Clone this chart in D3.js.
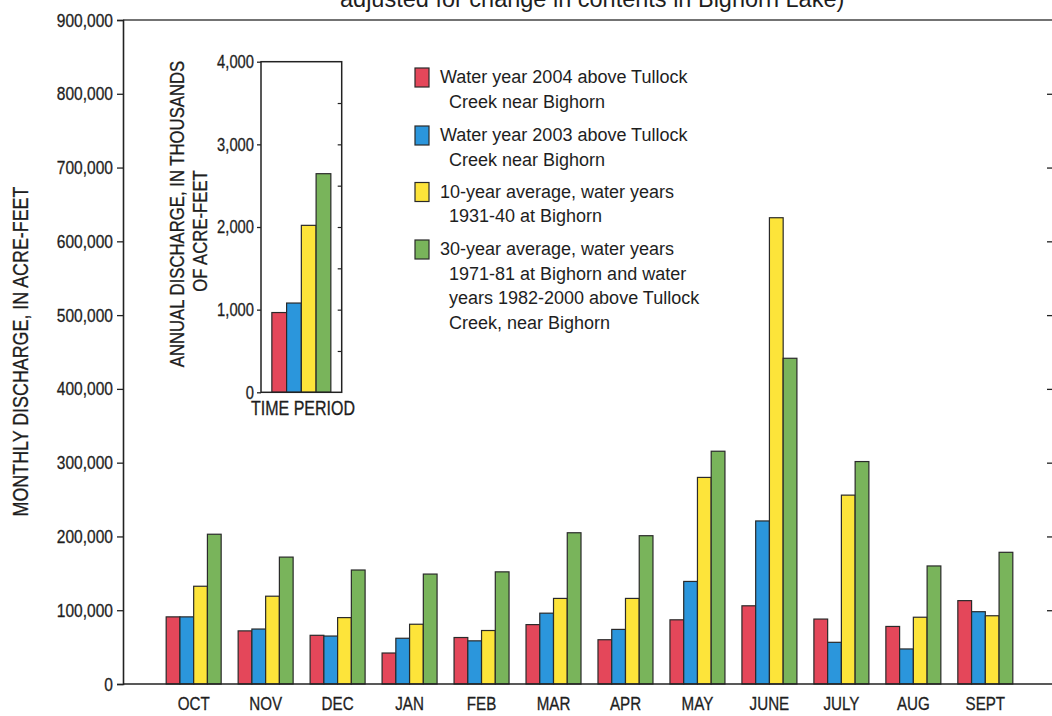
<!DOCTYPE html>
<html>
<head>
<meta charset="utf-8">
<script src="https://cdn.jsdelivr.net/npm/d3@7"></script>
<style>
  html, body { margin: 0; padding: 0; background: #ffffff; }
  svg { display: block; }
  .legend-text { font-family: "Liberation Sans", Arial, sans-serif; font-size: 18px; fill: #1e1e1e; }
</style>
</head>
<body>
<svg id="chart" width="1052" height="716"></svg>
<script>
// Monthly discharge, in acre-feet
const months = ["OCT", "NOV", "DEC", "JAN", "FEB", "MAR", "APR", "MAY", "JUNE", "JULY", "AUG", "SEPT"];
const wy2004 = [91000, 72000, 66000, 42000, 63000, 80500, 60000, 87000, 106000, 88000, 78000, 113000];
const wy2003 = [91000, 74500, 65000, 62000, 58500, 96000, 74000, 139000, 221000, 56500, 47500, 98000];
const avg10yr = [132500, 119000, 90000, 81000, 72500, 116000, 116000, 280000, 632000, 256000, 90500, 92500];
const avg30yr = [203000, 172000, 154500, 149000, 152000, 205000, 201000, 315500, 441500, 301500, 160000, 178500];

// Annual discharge, in thousands of acre-feet
const annual = [965, 1080, 2020, 2645];

const seriesKeys = ["wy2004", "wy2003", "avg10yr", "avg30yr"];
const seriesColors = ["#e4475a", "#2b96dc", "#fde43a", "#79b45b"];
const legendLines = [
  ["Water year 2004 above Tullock", "Creek near Bighorn"],
  ["Water year 2003 above Tullock", "Creek near Bighorn"],
  ["10-year average, water years", "1931-40 at Bighorn"],
  ["30-year average, water years", "1971-81 at Bighorn and water", "years 1982-2000 above Tullock", "Creek, near Bighorn"]
];

const yTicks = [0, 100000, 200000, 300000, 400000, 500000, 600000, 700000, 800000, 900000];
const insetTicks = [0, 1000, 2000, 3000, 4000];
const insetMinorTicks = [500, 1000, 1500, 2000, 2500, 3000, 3500];

const titleText = "adjusted for change in contents in Bighorn Lake)";
const yTitle = "MONTHLY DISCHARGE, IN ACRE-FEET";
const insetTitle = ["ANNUAL DISCHARGE, IN THOUSANDS", "OF ACRE-FEET"];
const insetXTitle = "TIME PERIOD";

(function draw() {
  const seriesValues = [wy2004, wy2003, avg10yr, avg30yr];
  const rows = months.map((m, i) => {
    const r = { month: m };
    seriesKeys.forEach((k, j) => { r[k] = seriesValues[j][i]; });
    return r;
  });

  const svg = d3.select("#chart");
  const ink = "#222";
  const textInk = "#1e1e1e";
  const barStroke = "#2a2a2a";
  const squeeze = 0.82; // horizontal compression for the narrow label face

  // narrow label face: Liberation Sans squeezed horizontally, lightly emboldened
  function narrowText(sel, size, baseTransform) {
    sel.attr("font-family", "'Liberation Sans', Arial, sans-serif")
      .attr("font-size", size)
      .attr("fill", textInk)
      .attr("stroke", textInk)
      .attr("stroke-width", 0.3)
      .each(function () {
        const t = d3.select(this);
        const x0 = +t.attr("x") || 0;
        t.attr("x", x0 / squeeze)
          .attr("transform", (baseTransform ? baseTransform + " " : "") + `scale(${squeeze},1)`);
      });
  }

  // main plot geometry
  const pL = 123, pR = 1056, pT = 20, pB = 684;

  const x = d3.scaleBand().domain(months).range([pL, pR]).paddingInner(0.236).paddingOuter(0.6);
  const xs = d3.scaleBand().domain(seriesKeys).range([0, x.bandwidth()]);
  const y = d3.scaleLinear().domain([0, 900000]).range([pB, pT]);
  const color = d3.scaleOrdinal().domain(seriesKeys).range(seriesColors);

  // title (runs off the top edge)
  svg.append("text")
    .attr("x", 340).attr("y", 6.5)
    .attr("font-family", "'Liberation Sans', Arial, sans-serif")
    .attr("font-size", 23.5)
    .attr("fill", textInk)
    .text(titleText);

  // bars
  const groups = svg.append("g").selectAll("g")
    .data(rows).join("g")
    .attr("transform", d => `translate(${x(d.month)},0)`);

  groups.selectAll("rect")
    .data(d => seriesKeys.map(k => ({ key: k, value: d[k] })))
    .join("rect")
    .attr("x", d => xs(d.key))
    .attr("width", xs.bandwidth())
    .attr("y", d => y(d.value))
    .attr("height", d => y(0) - y(d.value))
    .attr("fill", d => color(d.key))
    .attr("stroke", barStroke)
    .attr("stroke-width", 1.2);

  // frame: top and bottom lines
  svg.append("line").attr("x1", pL).attr("x2", pR).attr("y1", y(900000)).attr("y2", y(900000))
    .attr("stroke", "#444").attr("stroke-width", 1.4);
  svg.append("line").attr("x1", pL).attr("x2", pR).attr("y1", y(0)).attr("y2", y(0))
    .attr("stroke", ink).attr("stroke-width", 1.6);

  // left axis
  const yAxis = d3.axisLeft(y).tickValues(yTicks).tickSize(6).tickPadding(4).tickFormat(d3.format(","));
  const gy = svg.append("g").attr("transform", `translate(${pL},0)`).call(yAxis);
  gy.select(".domain").attr("stroke", ink).attr("stroke-width", 1.6);
  gy.selectAll(".tick line").attr("stroke", ink).attr("stroke-width", 1.3);
  gy.selectAll(".tick text").call(narrowText, 19);

  // right axis: inward ticks only
  const yAxisR = d3.axisLeft(y).tickValues(yTicks.slice(1, -1)).tickSize(7).tickFormat("");
  const gyr = svg.append("g").attr("transform", `translate(${pR - 2},0)`).call(yAxisR);
  gyr.select(".domain").remove();
  gyr.selectAll(".tick line").attr("stroke", ink).attr("stroke-width", 1.3);

  // month labels
  const xAxis = d3.axisBottom(x).tickSize(0).tickPadding(13);
  const gx = svg.append("g").attr("transform", `translate(0,${pB})`).call(xAxis);
  gx.select(".domain").remove();
  gx.selectAll(".tick text").call(narrowText, 18.5);

  // y-axis title
  svg.append("text")
    .attr("text-anchor", "middle")
    .text(yTitle)
    .call(narrowText, 21.8, "translate(28,351.5) rotate(-90)");

  // inset: annual discharge
  const iL = 261, iR = 341.7, iT = 61.7, iB = 392.3;
  const xi = d3.scaleBand().domain(seriesKeys).range([iL, iR]).paddingInner(0).paddingOuter(0.736);
  const yi = d3.scaleLinear().domain([0, 4000]).range([iB, iT]);

  svg.append("g").selectAll("rect")
    .data(seriesKeys.map((k, i) => ({ key: k, value: annual[i] })))
    .join("rect")
    .attr("x", d => xi(d.key))
    .attr("width", xi.bandwidth())
    .attr("y", d => yi(d.value))
    .attr("height", d => yi(0) - yi(d.value))
    .attr("fill", d => color(d.key))
    .attr("stroke", barStroke)
    .attr("stroke-width", 1.2);

  svg.append("rect").attr("x", iL).attr("y", iT).attr("width", iR - iL).attr("height", iB - iT)
    .attr("fill", "none").attr("stroke", ink).attr("stroke-width", 1.5);

  const yiAxis = d3.axisLeft(yi).tickValues(insetTicks).tickSize(4).tickPadding(3).tickFormat(d3.format(","));
  const gyi = svg.append("g").attr("transform", `translate(${iL},0)`).call(yiAxis);
  gyi.select(".domain").remove();
  gyi.selectAll(".tick line").attr("stroke", ink).attr("stroke-width", 1.3);
  gyi.selectAll(".tick text").call(narrowText, 18);

  const yiAxisR = d3.axisLeft(yi).tickValues(insetMinorTicks).tickSize(4).tickFormat("");
  const gyir = svg.append("g").attr("transform", `translate(${iR},0)`).call(yiAxisR);
  gyir.select(".domain").remove();
  gyir.selectAll(".tick line").attr("stroke", ink).attr("stroke-width", 1.2);

  svg.append("text")
    .attr("x", 303).attr("y", 415.5)
    .attr("text-anchor", "middle")
    .text(insetXTitle)
    .call(narrowText, 19.5);

  svg.append("text")
    .attr("text-anchor", "middle")
    .text(insetTitle[0])
    .call(narrowText, 20.4, "translate(184,214) rotate(-90)");
  svg.append("text")
    .attr("text-anchor", "middle")
    .text(insetTitle[1])
    .call(narrowText, 20.4, "translate(206.5,231) rotate(-90)");

  // legend
  const legendX = 415, legendTextX = 440, legendIndentX = 449;
  const entryBaselines = [83, 141, 197.5, 255];
  const lineStep = 24.5;

  const legend = svg.append("g").selectAll("g")
    .data(seriesKeys.map((k, i) => ({ key: k, lines: legendLines[i], base: entryBaselines[i] })))
    .join("g");

  legend.append("rect")
    .attr("x", legendX).attr("y", d => d.base - 15)
    .attr("width", 14).attr("height", 19)
    .attr("fill", d => color(d.key))
    .attr("stroke", barStroke).attr("stroke-width", 1.2);

  legend.each(function (d) {
    const g = d3.select(this);
    d.lines.forEach((ln, j) => {
      g.append("text")
        .attr("class", "legend-text")
        .attr("x", j === 0 ? legendTextX : legendIndentX)
        .attr("y", d.base + j * lineStep)
        .text(ln);
    });
  });
})();
</script>
</body>
</html>
